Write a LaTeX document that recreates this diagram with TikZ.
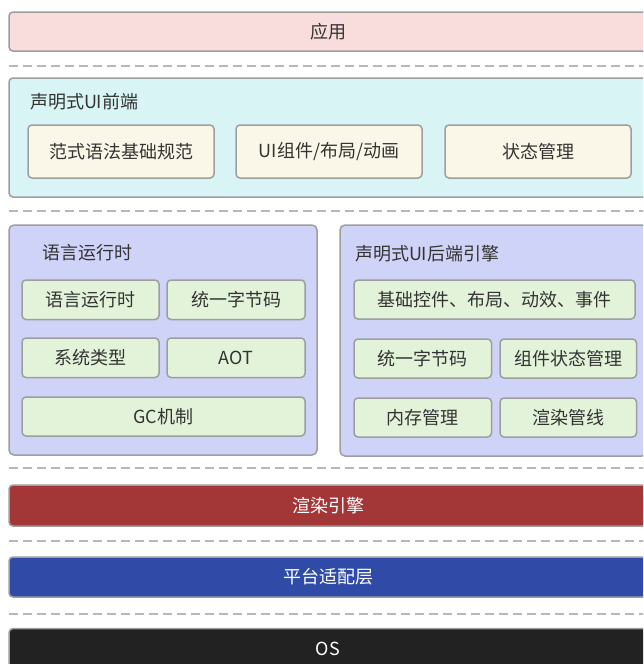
\documentclass[tikz,border=0pt]{standalone}
\usepackage{fontspec}
\setmainfont{Noto Sans CJK SC}
\definecolor{bordergrey}{RGB}{158,158,158}
\definecolor{dashgrey}{RGB}{184,184,184}
\definecolor{txtgrey}{RGB}{51,51,51}
\definecolor{pinkfill}{RGB}{249,221,220}
\definecolor{cyanfill}{RGB}{216,244,244}
\definecolor{creamfill}{RGB}{251,247,232}
\definecolor{lavfill}{RGB}{208,211,248}
\definecolor{greenfill}{RGB}{227,243,218}
\definecolor{redfill}{RGB}{163,54,54}
\definecolor{bluefill}{RGB}{47,75,167}
\definecolor{blackfill}{RGB}{34,34,34}
\tikzset{
  box/.style={draw=bordergrey, line width=1.5pt, rounded corners=4pt, inner sep=0pt, outer sep=0pt,
    font=\fontsize{18}{21}\selectfont, text=txtgrey},
  layer/.style={box, minimum width=638pt},
  panel/.style={box, rounded corners=5pt},
  cream/.style={box, fill=creamfill, minimum width=186pt, minimum height=53pt},
  gbox/.style={box, fill=greenfill},
  title/.style={inner sep=0pt, outer sep=0pt, anchor=west, font=\fontsize{18}{21}\selectfont, text=txtgrey},
  sep/.style={draw=dashgrey, line width=2pt, dash pattern=on 9pt off 5pt}
}
\begin{document}
\begin{tikzpicture}[x=1pt,y=-1pt]
\useasboundingbox (0,0) rectangle (643,664);
\clip (0,0) rectangle (643,664);
\fill[white] (0,0) rectangle (643,664);
% layers
\node[layer, fill=pinkfill, minimum height=39pt] (app) at (328,31.5) {应用};
\node[layer, fill=cyanfill, minimum height=119pt] (front) at (328,137.5) {};
\node[title] (fronttitle) at (30,102) {声明式UI前端};
\node[cream] (f1) at (121,151.5) {范式语法基础规范};
\node[cream] (f2) at (329,151.5) {UI组件/布局/动画};
\node[cream] (f3) at (538,151.5) {状态管理};
% left panel
\node[panel, fill=lavfill, minimum width=308pt, minimum height=230pt] (lp) at (163,340) {};
\node[title] (lptitle) at (42,253) {语言运行时};
\node[gbox, minimum width=137pt, minimum height=39.5pt] (l1) at (90.5,299.75) {语言运行时};
\node[gbox, minimum width=138pt, minimum height=39.5pt] (l2) at (236,299.75) {统一字节码};
\node[gbox, minimum width=137pt, minimum height=39.5pt] (l3) at (90.5,357.75) {系统类型};
\node[gbox, minimum width=138pt, minimum height=39.5pt] (l4) at (236,357.75) {AOT};
\node[gbox, minimum width=283pt, minimum height=39pt] (l5) at (163.5,416.5) {GC机制};
% right panel
\node[panel, fill=lavfill, minimum width=307pt, minimum height=231pt] (rp) at (493.5,340.5) {};
\node[title] (rptitle) at (355,253.5) {声明式UI后端引擎};
\node[gbox, minimum width=281pt, minimum height=39pt] (r1) at (494.5,299.5) {基础控件、布局、动效、事件};
\node[gbox, minimum width=137.5pt, minimum height=39pt] (r2) at (422.75,358.5) {统一字节码};
\node[gbox, minimum width=136.5pt, minimum height=39pt] (r3) at (568.25,358.5) {组件状态管理};
\node[gbox, minimum width=137.5pt, minimum height=39pt] (r4) at (422.75,417.5) {内存管理};
\node[gbox, minimum width=136.5pt, minimum height=39pt] (r5) at (568.25,417.5) {渲染管线};
% bottom layers
\node[layer, fill=redfill, text=white, minimum height=41pt] (render) at (328,505.5) {渲染引擎};
\node[layer, fill=bluefill, text=white, minimum height=40pt] (platform) at (328,577) {平台适配层};
\node[layer, fill=blackfill, text=white, minimum height=40pt] (os) at (328,648.5) {OS};
% separators
\coordinate (s1a) at (9,65.5);  \coordinate (s1b) at (660,65.5);
\coordinate (s2a) at (9,211);   \coordinate (s2b) at (660,211);
\coordinate (s3a) at (9,467.5); \coordinate (s3b) at (660,467.5);
\coordinate (s4a) at (9,541);   \coordinate (s4b) at (660,541);
\coordinate (s5a) at (9,614);   \coordinate (s5b) at (660,614);
\draw[sep] (s1a) -- (s1b);
\draw[sep] (s2a) -- (s2b);
\draw[sep] (s3a) -- (s3b);
\draw[sep] (s4a) -- (s4b);
\draw[sep] (s5a) -- (s5b);
\end{tikzpicture}
\end{document}
